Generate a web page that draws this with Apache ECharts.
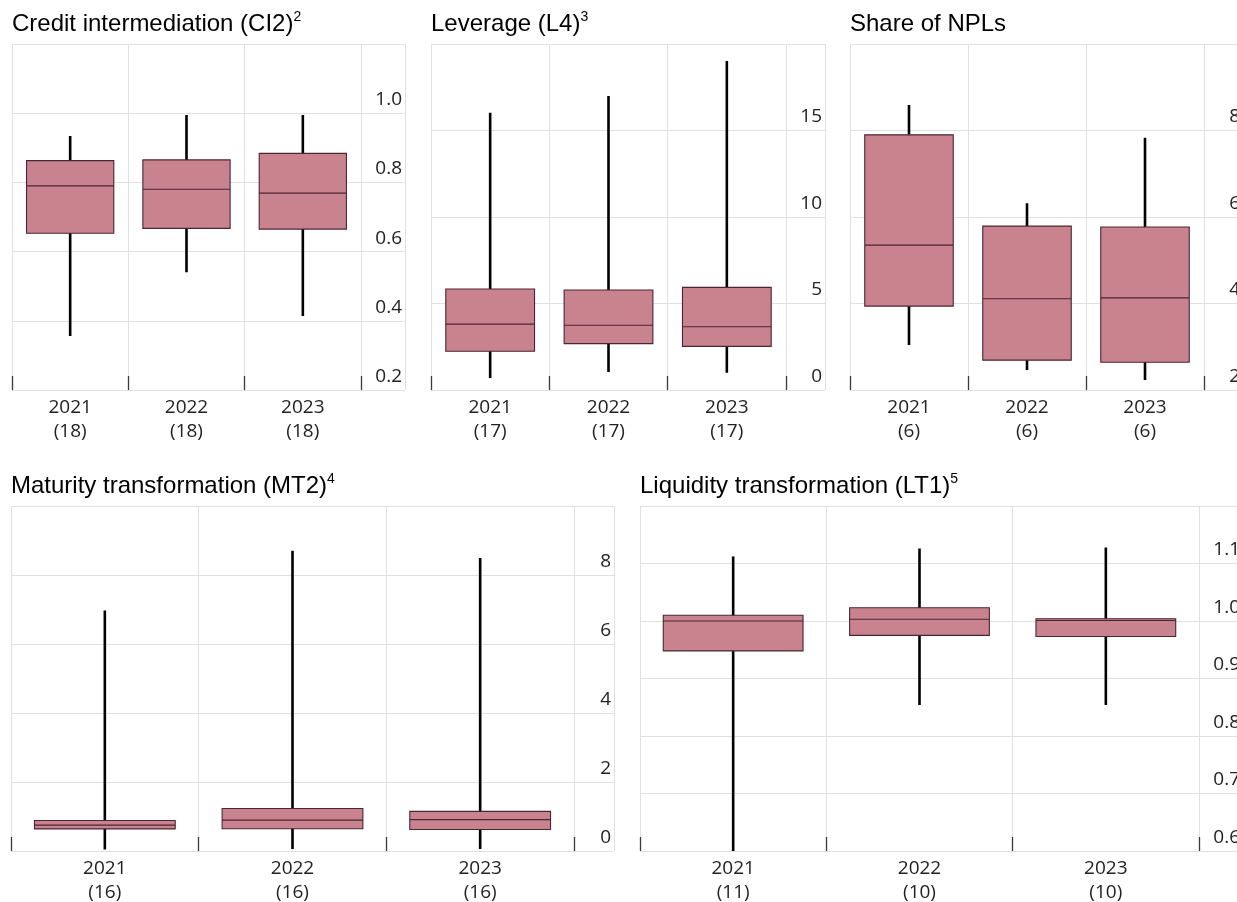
<!DOCTYPE html>
<html>
<head>
<meta charset="utf-8">
<script src="https://cdn.jsdelivr.net/npm/echarts@6/dist/echarts.min.js"></script>
<style>
html,body{margin:0;padding:0;background:#ffffff;}
#chart{width:1237px;height:902px;}
</style>
</head>
<body>
<div id="chart"></div>
<script>
// ---------- data (min, Q1, median, Q3, max) ----------
const years = ['2021', '2022', '2023'];

const ci2Counts = [18, 18, 18];
const ci2Stats = [
  [0.356, 0.653, 0.790, 0.863, 0.934],
  [0.540, 0.667, 0.780, 0.865, 0.995],
  [0.414, 0.665, 0.769, 0.884, 0.995]
];

const l4Counts = [17, 17, 17];
const l4Stats = [
  [0.69, 2.24, 3.81, 5.84, 16.03],
  [1.04, 2.68, 3.74, 5.78, 16.99],
  [1.00, 2.52, 3.66, 5.93, 19.02]
];

const nplCounts = [6, 6, 6];
const nplStats = [
  [3.04, 3.94, 5.35, 7.90, 8.59],
  [2.46, 2.69, 4.11, 5.79, 6.32],
  [2.23, 2.64, 4.13, 5.77, 7.83]
];

const mt2Counts = [16, 16, 16];
const mt2Stats = [
  [0.04, 0.64, 0.75, 0.885, 6.97],
  [0.06, 0.644, 0.894, 1.23, 8.70],
  [0.06, 0.625, 0.91, 1.15, 8.49]
];

const lt1Counts = [11, 10, 10];
const lt1Stats = [
  [0.600, 0.948, 1.000, 1.010, 1.112],
  [0.854, 0.975, 1.003, 1.023, 1.126],
  [0.854, 0.973, 1.001, 1.004, 1.128]
];

// ---------- panels ----------
const panels = [
  {title: 'Credit intermediation (CI2)', sup: '2', counts: ci2Counts, stats: ci2Stats,
   min: 0.2, max: 1.2, interval: 0.2, dec: 1, left: 12, top: 44, w: 349, h: 346, strip: 44},
  {title: 'Leverage (L4)', sup: '3', counts: l4Counts, stats: l4Stats,
   min: 0, max: 20, interval: 5, dec: 0, left: 431, top: 44, w: 355, h: 346, strip: 39},
  {title: 'Share of NPLs', sup: '', counts: nplCounts, stats: nplStats,
   min: 2, max: 10, interval: 2, dec: 0, left: 850, top: 44, w: 354, h: 346, strip: 39},
  {title: 'Maturity transformation (MT2)', sup: '4', counts: mt2Counts, stats: mt2Stats,
   min: 0, max: 10, interval: 2, dec: 0, left: 11, top: 506, w: 563, h: 345, strip: 40},
  {title: 'Liquidity transformation (LT1)', sup: '5', counts: lt1Counts, stats: lt1Stats,
   min: 0.6, max: 1.2, interval: 0.1, dec: 1, left: 640, top: 506, w: 559, h: 345, strip: 44}
];

const GRID = '#e0e0e0';
const LABEL_FONT = 'Open Sans';
const TITLE_FONT = 'Liberation Sans';

const grid = [], xAxis = [], yAxis = [], series = [], title = [];

panels.forEach(function (p, i) {
  const gMain = grid.length;
  grid.push({left: p.left, top: p.top, width: p.w, height: p.h, containLabel: false, outerBoundsMode: 'none'});
  const gStrip = grid.length;
  grid.push({left: p.left + p.w, top: p.top, width: p.strip, height: p.h, containLabel: false, outerBoundsMode: 'none'});

  title.push({
    text: p.sup ? '{a|' + p.title + '}{s|' + p.sup + '}' : '{a|' + p.title + '}',
    left: p.left, top: p.top - 34, padding: 0,
    textStyle: {
      fontWeight: 'normal', fontFamily: TITLE_FONT, color: '#000',
      rich: {
        a: {fontFamily: TITLE_FONT, fontWeight: 'normal', fontSize: 24, color: '#000', lineHeight: 28},
        s: {fontFamily: TITLE_FONT, fontWeight: 'normal', fontSize: 14, color: '#000', lineHeight: 24, verticalAlign: 'top'}
      }
    }
  });

  const xMain = xAxis.length;
  xAxis.push({
    type: 'category', gridIndex: gMain, boundaryGap: true,
    data: years.map(function (y, j) { return y + '\n(' + p.counts[j] + ')'; }),
    axisLine: {show: false},
    axisTick: {show: true, inside: true, length: 14, interval: 0, lineStyle: {color: '#3a3a3a', width: 1.3}},
    axisLabel: {interval: 0, margin: 6, fontFamily: LABEL_FONT, fontSize: 19, lineHeight: 24, color: '#222'},
    splitLine: {show: true, interval: 0, lineStyle: {color: GRID, width: 1}}
  });
  const xHidden = xAxis.length;
  xAxis.push({
    type: 'category', gridIndex: gMain, boundaryGap: true, show: false,
    data: years.slice()
  });
  xAxis.push({
    type: 'value', gridIndex: gStrip, min: 0, max: 1, interval: 1,
    axisLine: {show: false}, axisTick: {show: false}, axisLabel: {show: false},
    splitLine: {show: true, lineStyle: {color: GRID, width: 1}}
  });

  const yMain = yAxis.length;
  yAxis.push({
    type: 'value', gridIndex: gMain, position: 'right',
    min: p.min, max: p.max, interval: p.interval,
    axisLine: {show: false}, axisTick: {show: false},
    splitLine: {show: true, lineStyle: {color: GRID, width: 1}},
    axisLabel: {
      showMaxLabel: false, showMinLabel: true,
      align: 'right', verticalAlign: 'bottom', padding: [0, 0, 4, 0],
      margin: p.strip - 3,
      fontFamily: LABEL_FONT, fontSize: 19, color: '#222',
      formatter: function (v) { return Number(v).toFixed(p.dec); }
    }
  });
  yAxis.push({
    type: 'value', gridIndex: gStrip, min: p.min, max: p.max, interval: p.interval,
    axisLine: {show: false}, axisTick: {show: false}, axisLabel: {show: false},
    splitLine: {show: true, lineStyle: {color: GRID, width: 1}}
  });

  // whiskers (min..max) as a zero-width boxplot
  series.push({
    type: 'boxplot', xAxisIndex: xHidden, yAxisIndex: yMain,
    data: p.stats, boxWidth: [0, 0], silent: true, z: 2,
    itemStyle: {color: '#000', borderColor: '#000', borderWidth: 2.6}
  });
  // boxes (Q1..Q3 with median)
  series.push({
    type: 'boxplot', xAxisIndex: xMain, yAxisIndex: yMain,
    data: p.stats.map(function (s) { return [s[1], s[1], s[2], s[3], s[3]]; }),
    boxWidth: ['75%', '75%'], silent: true, z: 3,
    itemStyle: {color: '#C8838F', borderColor: '#4a2632', borderWidth: 1.1}
  });
});

const chart = echarts.init(document.getElementById('chart'), null, {renderer: 'canvas'});
chart.setOption({
  animation: false,
  backgroundColor: '#ffffff',
  title: title,
  grid: grid,
  xAxis: xAxis,
  yAxis: yAxis,
  series: series
});
</script>
</body>
</html>
